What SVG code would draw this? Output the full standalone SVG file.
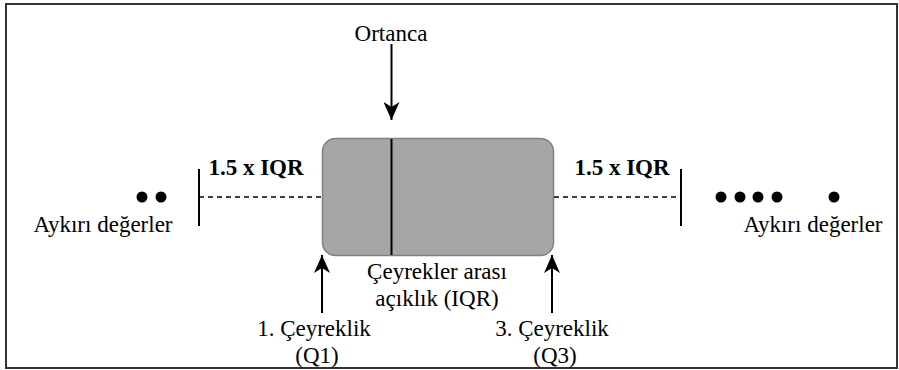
<svg xmlns="http://www.w3.org/2000/svg" width="899" height="370" viewBox="0 0 899 370">
<defs>
<style>
.t{font-family:"Liberation Serif","Times New Roman",serif;font-size:23px;fill:#000;text-anchor:middle}
.b{font-weight:bold}
.ln{stroke:#000;stroke-width:2;fill:none}
.dash{stroke:#000;stroke-width:1.5;stroke-dasharray:5,4;fill:none}
</style>
<marker id="ah2" viewBox="0 0 18 16" refX="18" refY="8" markerWidth="18" markerHeight="16" markerUnits="userSpaceOnUse" orient="auto">
<path d="M0,0 L18,8 L0,16 L5,8 Z" fill="#000"/>
</marker>
</defs>
<rect x="6" y="4" width="891" height="364" fill="#fff" stroke="#333" stroke-width="2"/>
<g id="box">
<rect x="322.5" y="138.5" width="231" height="117" rx="13" ry="13" fill="#a6a6a6" stroke="#808080" stroke-width="1.5"/>
<line x1="391.5" y1="139" x2="391.5" y2="255" class="ln"/>
</g>
<g id="connectors">
<line x1="391.5" y1="44" x2="391.5" y2="120" class="ln" marker-end="url(#ah2)"/>
<line x1="322" y1="313" x2="322" y2="255" class="ln" marker-end="url(#ah2)"/>
<line x1="552" y1="313" x2="552" y2="255" class="ln" marker-end="url(#ah2)"/>
<line x1="199" y1="197" x2="322" y2="197" class="dash"/>
<line x1="554" y1="197" x2="681" y2="197" class="dash"/>
</g>
<g id="left-whisker">
<line x1="199" y1="169" x2="199" y2="226" class="ln"/>
</g>
<g id="right-whisker">
<line x1="681" y1="169" x2="681" y2="226" class="ln"/>
</g>
<g id="left-outliers">
<circle cx="142" cy="197" r="5.5"/>
<circle cx="161" cy="197" r="5.5"/>
<text x="103" y="232" class="t">Aykırı değerler</text>
</g>
<g id="right-outliers">
<circle cx="721" cy="197" r="5.5"/>
<circle cx="740" cy="197" r="5.5"/>
<circle cx="758" cy="197" r="5.5"/>
<circle cx="777" cy="197" r="5.5"/>
<circle cx="834" cy="197" r="5.5"/>
<text x="813" y="232" class="t">Aykırı değerler</text>
</g>
<g id="labels">
<text x="391" y="41" class="t">Ortanca</text>
<text x="256" y="175" class="t b">1.5 x IQR</text>
<text x="622" y="175" class="t b">1.5 x IQR</text>
<text x="437" y="279" class="t">Çeyrekler arası</text>
<text x="437" y="306" class="t">açıklık (IQR)</text>
<text x="314" y="336" class="t">1. Çeyreklik</text>
<text x="317" y="363" class="t">(Q1)</text>
<text x="552" y="336" class="t">3. Çeyreklik</text>
<text x="555" y="363" class="t">(Q3)</text>
</g>
</svg>
